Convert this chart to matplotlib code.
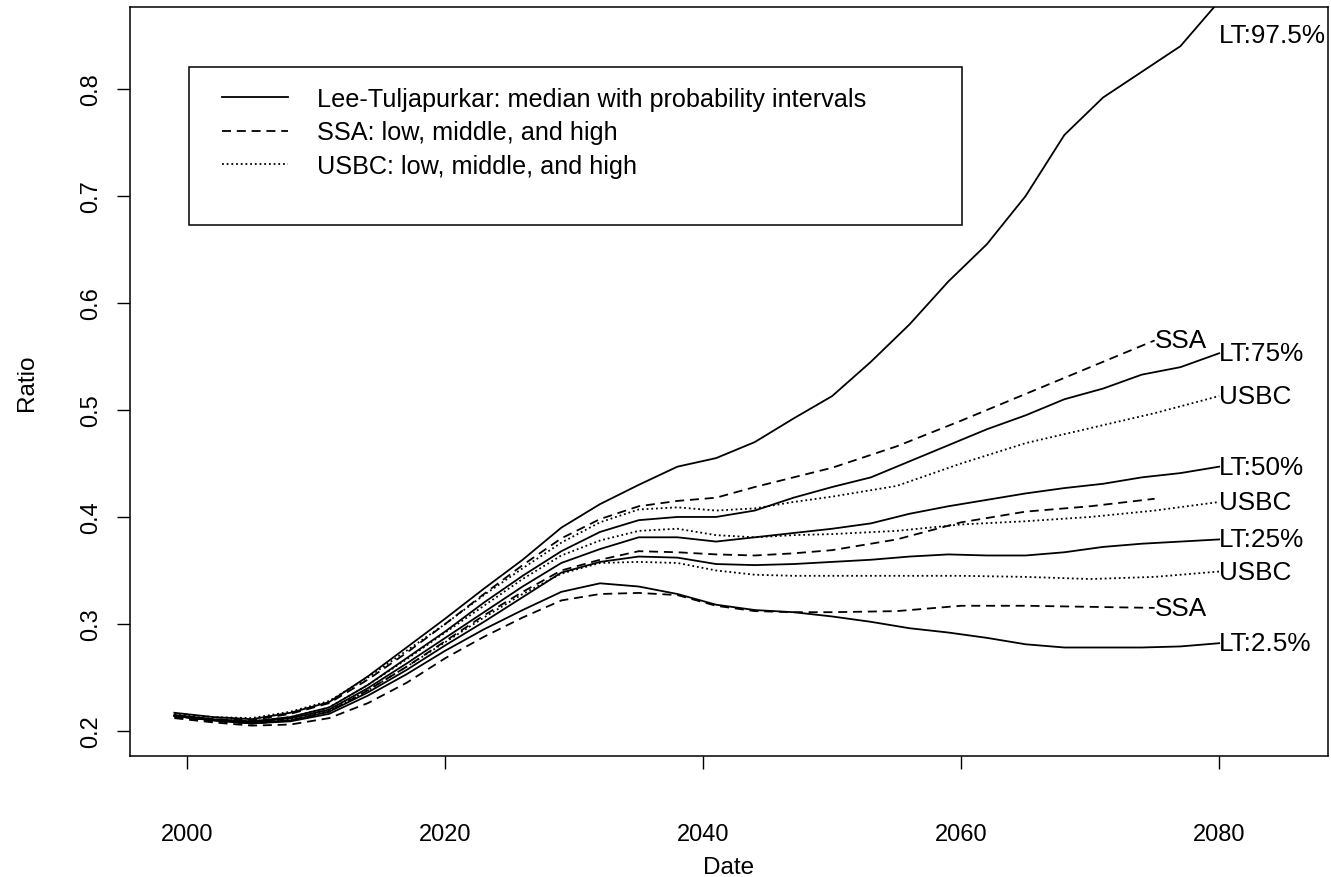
import matplotlib
matplotlib.use("Agg")
import matplotlib.pyplot as plt
from matplotlib.lines import Line2D
from matplotlib.patches import Rectangle

plt.rcParams['font.family'] = ['Liberation Sans', 'DejaVu Sans']

# Lee-Tuljapurkar percentiles
lt_years = [1999, 2002, 2005, 2008, 2011, 2014, 2017, 2020, 2023, 2026, 2029, 2032, 2035, 2038,
            2041, 2044, 2047, 2050, 2053, 2056, 2059, 2062, 2065, 2068, 2071, 2074, 2077, 2080]
lt_975 = [0.217, 0.213, 0.211, 0.217, 0.227, 0.251, 0.278, 0.305, 0.333, 0.360, 0.390, 0.412, 0.430, 0.447,
          0.455, 0.470, 0.492, 0.513, 0.545, 0.580, 0.620, 0.655, 0.700, 0.757, 0.792, 0.816, 0.840, 0.882]
lt_75 = [0.215, 0.211, 0.209, 0.213, 0.222, 0.243, 0.268, 0.293, 0.320, 0.345, 0.368, 0.386, 0.397, 0.400,
         0.400, 0.406, 0.418, 0.428, 0.437, 0.452, 0.467, 0.482, 0.495, 0.510, 0.520, 0.533, 0.540, 0.553]
lt_50 = [0.214, 0.210, 0.208, 0.212, 0.220, 0.240, 0.263, 0.287, 0.311, 0.335, 0.357, 0.370, 0.381, 0.381,
         0.377, 0.381, 0.385, 0.389, 0.394, 0.403, 0.410, 0.416, 0.422, 0.427, 0.431, 0.437, 0.441, 0.447]
lt_25 = [0.214, 0.210, 0.207, 0.210, 0.218, 0.236, 0.257, 0.280, 0.302, 0.325, 0.348, 0.358, 0.363, 0.362,
         0.356, 0.355, 0.356, 0.358, 0.360, 0.363, 0.365, 0.364, 0.364, 0.367, 0.372, 0.375, 0.377, 0.379]
lt_025 = [0.214, 0.210, 0.207, 0.209, 0.216, 0.233, 0.253, 0.275, 0.295, 0.313, 0.330, 0.338, 0.335, 0.328,
          0.318, 0.313, 0.311, 0.307, 0.302, 0.296, 0.292, 0.287, 0.281, 0.278, 0.278, 0.278, 0.279, 0.282]

# SSA low / middle / high (to 2075)
ssa_years = [1999, 2002, 2005, 2008, 2011, 2014, 2017, 2020, 2023, 2026, 2029, 2032, 2035, 2038,
             2041, 2044, 2047, 2050, 2055, 2060, 2065, 2070, 2075]
ssa_high = [0.214, 0.211, 0.210, 0.216, 0.226, 0.248, 0.273, 0.300, 0.328, 0.355, 0.380, 0.398, 0.410, 0.415,
            0.418, 0.428, 0.437, 0.446, 0.466, 0.490, 0.515, 0.540, 0.565]
ssa_mid = [0.213, 0.209, 0.207, 0.210, 0.218, 0.238, 0.260, 0.284, 0.308, 0.330, 0.350, 0.360, 0.368, 0.367,
           0.365, 0.364, 0.366, 0.369, 0.379, 0.395, 0.405, 0.410, 0.417]
ssa_low = [0.212, 0.208, 0.205, 0.206, 0.212, 0.226, 0.245, 0.268, 0.288, 0.306, 0.322, 0.328, 0.329, 0.327,
           0.317, 0.312, 0.311, 0.311, 0.312, 0.317, 0.317, 0.316, 0.315]

# USBC low / middle / high (to 2080)
usbc_years = [1999, 2002, 2005, 2008, 2011, 2014, 2017, 2020, 2023, 2026, 2029, 2032, 2035, 2038,
              2041, 2044, 2047, 2050, 2055, 2060, 2065, 2070, 2075, 2080]
usbc_high = [0.216, 0.213, 0.212, 0.218, 0.228, 0.250, 0.275, 0.300, 0.327, 0.352, 0.376, 0.395, 0.407, 0.409,
             0.406, 0.408, 0.414, 0.419, 0.429, 0.450, 0.469, 0.483, 0.497, 0.513]
usbc_mid = [0.215, 0.211, 0.209, 0.213, 0.222, 0.243, 0.267, 0.292, 0.317, 0.342, 0.364, 0.378, 0.387, 0.389,
            0.383, 0.381, 0.383, 0.384, 0.387, 0.393, 0.396, 0.400, 0.406, 0.414]
usbc_low = [0.214, 0.210, 0.208, 0.211, 0.219, 0.238, 0.260, 0.283, 0.306, 0.328, 0.347, 0.357, 0.358, 0.357,
            0.350, 0.346, 0.345, 0.345, 0.345, 0.345, 0.344, 0.342, 0.344, 0.349]

legend_labels = ['Lee-Tuljapurkar: median with probability intervals',
                 'SSA: low, middle, and high',
                 'USBC: low, middle, and high']

FS_TICK = 17
FS_AXIS = 17.5
FS_LEG = 18.2
FS_LAB = 18.8
LW = 1.3
DASH = (0, (5.0, 3.2))
DOT = (0, (1.0, 1.6))

fig = plt.figure(figsize=(13.31, 8.78), dpi=100)
ax = fig.add_axes([130 / 1331, 121 / 878, 1198 / 1331, 749 / 878])

lt_series = [('LT:97.5%', lt_975), ('LT:75%', lt_75), ('LT:50%', lt_50),
             ('LT:25%', lt_25), ('LT:2.5%', lt_025)]
for name, vals in lt_series:
    ax.plot(lt_years, vals, color='black', lw=LW, ls='-')
    ax.annotate(name, (lt_years[-1], min(vals[-1], 0.85)), xytext=(0, 0),
                textcoords='offset points', ha='left', va='center', fontsize=FS_LAB)

for name, vals in [('SSA', ssa_high), (None, ssa_mid), ('SSA', ssa_low)]:
    ax.plot(ssa_years, vals, color='black', lw=LW, ls=DASH)
    if name:
        ax.annotate(name, (ssa_years[-1], vals[-1]), xytext=(0, 0),
                    textcoords='offset points', ha='left', va='center', fontsize=FS_LAB)

for vals in [usbc_high, usbc_mid, usbc_low]:
    ax.plot(usbc_years, vals, color='black', lw=LW, ls=DOT)
    ax.annotate('USBC', (usbc_years[-1], vals[-1]), xytext=(0, 0),
                textcoords='offset points', ha='left', va='center', fontsize=FS_LAB)

ax.set_xlim(1995.56, 2088.44)
ax.set_ylim(0.1766, 0.8766)
ax.set_xticks([2000, 2020, 2040, 2060, 2080])
ax.set_yticks([0.2, 0.3, 0.4, 0.5, 0.6, 0.7, 0.8])
ax.set_yticklabels(['0.2', '0.3', '0.4', '0.5', '0.6', '0.7', '0.8'],
                   rotation=90, va='center')
ax.tick_params(axis='both', direction='out', length=9.4, width=1.0, labelsize=FS_TICK)
ax.tick_params(axis='x', pad=39)
ax.tick_params(axis='y', pad=11)
for sp in ax.spines.values():
    sp.set_linewidth(1.1)

ax.set_xlabel('Date', fontsize=FS_AXIS)
ax.xaxis.set_label_coords(0.5, -0.148)
ax.xaxis.label.set_va('center')
ax.set_ylabel('Ratio', fontsize=FS_AXIS)
ax.yaxis.set_label_coords(-0.086, 0.5)
ax.yaxis.label.set_va('center')

# legend box drawn as a plain frame, entries placed inside
ax.add_patch(Rectangle((0.0492, 0.709), 0.6453, 0.2109, transform=ax.transAxes,
                       fill=False, edgecolor='black', lw=1.1, zorder=5))
handles = [Line2D([], [], color='black', lw=LW, ls='-'),
           Line2D([], [], color='black', lw=LW, ls=DASH),
           Line2D([], [], color='black', lw=LW, ls=DOT)]
ax.legend(handles, legend_labels, loc='upper left', bbox_to_anchor=(0.0768, 0.893),
          frameon=False, fontsize=FS_LEG, handlelength=2.6, handletextpad=1.15,
          labelspacing=0.37, borderpad=0, borderaxespad=0)

fig.savefig('out.png', dpi=100)
